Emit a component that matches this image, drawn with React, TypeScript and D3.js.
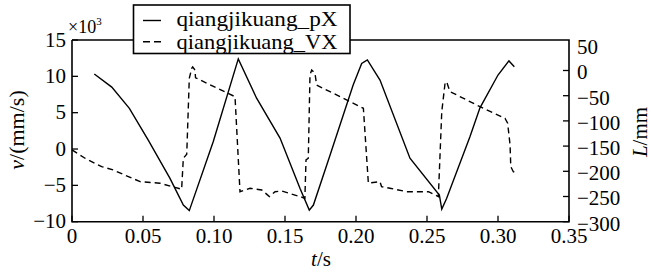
import * as d3 from 'd3';
import React from 'react';

// solid line: qiangjikuang_pX, right axis (L/mm)
const pxTime = [0.0157, 0.028, 0.0404, 0.0537, 0.069, 0.0784, 0.0826, 0.0995, 0.1171, 0.130, 0.1465, 0.1606, 0.1671, 0.170, 0.1817, 0.198, 0.204, 0.208, 0.2169, 0.238, 0.2587, 0.2604, 0.2638, 0.2803, 0.2873, 0.300, 0.3077, 0.3115];
const pxValue = [-7, -33, -75, -138, -214, -267, -278, -141, 23, -55, -134, -234, -277, -267, -168, -29, 14, 21, -19, -174, -247, -275, -254, -131, -74, -9, 19, 7.5];

// dashed line: qiangjikuang_VX, left axis (v, x10^3 mm/s)
const vxTime = [0, 0.0092, 0.0209, 0.029, 0.0397, 0.048, 0.062, 0.0772, 0.0784, 0.0808, 0.0826, 0.0843, 0.085, 0.0866, 0.087, 0.1148, 0.1183, 0.122, 0.1254, 0.1336, 0.139, 0.143, 0.1477, 0.1606, 0.164, 0.1648, 0.1664, 0.1676, 0.1688, 0.1711, 0.1723, 0.2052, 0.2087, 0.2169, 0.218, 0.2239, 0.2357, 0.251, 0.258, 0.2604, 0.2627, 0.2638, 0.265, 0.2662, 0.2873, 0.3049, 0.3068, 0.3085, 0.309, 0.3108, 0.3132];
const vxValue = [-0.13, -1.27, -2.43, -2.88, -3.8, -4.49, -4.71, -5.54, -1.27, -0.72, 9.73, 11.1, 11.3, 10.87, 9.8, 7.2, -5.87, -5.63, -5.4, -5.63, -6.55, -5.87, -5.77, -6.55, -6.77, -1.5, -1.27, 10.2, 10.87, 10.4, 8.8, 5.6, -4.7, -4.49, -5.18, -5.4, -5.87, -5.87, -6.55, 5.14, 9.04, 9.27, 8.58, 7.9, 5.83, 4.23, 3.54, 0.56, -2.43, -3.12, -3.34];

const xTicks = [0, 0.05, 0.1, 0.15, 0.2, 0.25, 0.3, 0.35];
const xTickLabels = ['0', '0.05', '0.10', '0.15', '0.20', '0.25', '0.30', '0.35'];
const leftTicks = [15, 10, 5, 0, -5, -10];
const rightTicks = [50, 0, -50, -100, -150, -200, -250, -300];

const fmt = (v: number) => (v < 0 ? '\u2212' + Math.abs(v) : String(v));

const W = 651, H = 273;
const left = 72, right = 569, top = 40, bottom = 221.7;
const font = "'Liberation Serif', 'Times New Roman', serif";

export default function App() {
  const x = d3.scaleLinear().domain([0, 0.35]).range([left, right]);
  const yL = d3.scaleLinear().domain([-10, 15]).range([bottom, top]);
  const yR = d3.scaleLinear().domain([-300, 60.5]).range([bottom, top]);

  const pxLine = d3.line<number>()
    .x((_, i) => x(pxTime[i]))
    .y(d => yR(d));
  const vxLine = d3.line<number>()
    .x((_, i) => x(vxTime[i]))
    .y(d => yL(d));

  return (
    <svg width={W} height={H} style={{ position: 'absolute', left: 0, top: 0, background: '#fff' }}>
      <rect width={W} height={H} fill="#fff" />

      {/* curves */}
      <path d={pxLine(pxValue) || ''} fill="none" stroke="#000" strokeWidth={1.4} />
      <path d={vxLine(vxValue) || ''} fill="none" stroke="#000" strokeWidth={1.4} strokeDasharray="6,4" />

      {/* frame */}
      <path d={`M${left},${top}V${bottom}H${right}V${top}H${left}`} fill="none" stroke="#000" strokeWidth={1.6} />

      <g style={{ fontFamily: font }}>
        {/* bottom ticks */}
        {xTicks.map((t, i) => (
          <g key={'x' + i}>
            <line x1={x(t)} x2={x(t)} y1={bottom} y2={bottom - 6} stroke="#000" strokeWidth={1.3} />
            <text x={x(t)} y={243} fontSize={21} textAnchor="middle">{xTickLabels[i]}</text>
          </g>
        ))}

        {/* left ticks */}
        {leftTicks.map((v, i) => (
          <g key={'l' + i}>
            <line x1={left} x2={left + 6} y1={yL(v)} y2={yL(v)} stroke="#000" strokeWidth={1.3} />
            <text x={66} y={yL(v)} dy="0.32em" fontSize={21} textAnchor="end">{fmt(v)}</text>
          </g>
        ))}

        {/* right ticks */}
        {rightTicks.map((v, i) => (
          <g key={'r' + i}>
            {v !== 50 && <line x1={right} x2={right - 6} y1={yR(v)} y2={yR(v)} stroke="#000" strokeWidth={1.3} />}
            <text x={577} y={yR(v)} dy="0.42em" fontSize={21} textAnchor="start">{fmt(v)}</text>
          </g>
        ))}

        {/* x10^3 */}
        <text x={68} y={33} fontSize={18}>×10<tspan fontSize={11} dy={-8}>3</tspan></text>

        {/* axis titles */}
        <text transform="translate(24,130) rotate(-90)" fontSize={22} textAnchor="middle">
          <tspan fontStyle="italic">v</tspan>/(mm/s)
        </text>
        <text transform="translate(647,132) rotate(-90)" fontSize={21} textAnchor="middle">
          <tspan fontStyle="italic">L</tspan>/mm
        </text>
        <text x={321} y={266} fontSize={21} textAnchor="middle">
          <tspan fontStyle="italic">t</tspan>/s
        </text>

        {/* legend */}
        <rect x={133.5} y={5} width={216.5} height={48.5} fill="#fff" stroke="#000" strokeWidth={1.6} />
        <line x1={143} x2={161} y1={20.5} y2={20.5} stroke="#000" strokeWidth={1.4} />
        <line x1={143} x2={161} y1={41.7} y2={41.7} stroke="#000" strokeWidth={1.4} strokeDasharray="7,4" />
        <text x={176.5} y={25.5} fontSize={22} textLength={161} lengthAdjust="spacingAndGlyphs">qiangjikuang_pX</text>
        <text x={176.5} y={48.5} fontSize={22} textLength={161} lengthAdjust="spacingAndGlyphs">qiangjikuang_VX</text>
      </g>
    </svg>
  );
}
